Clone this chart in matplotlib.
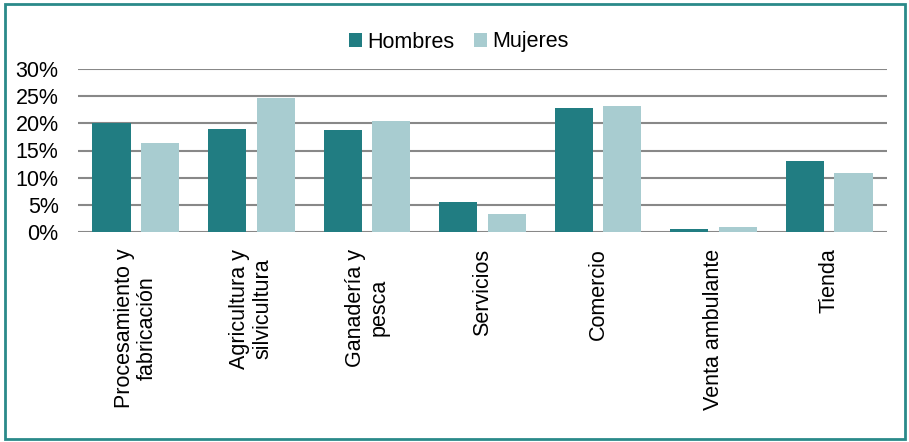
import numpy as np
import matplotlib.pyplot as plt
from matplotlib.patches import Rectangle
from matplotlib.ticker import PercentFormatter

plt.rcParams['font.family'] = ['Liberation Sans', 'DejaVu Sans']

categorias = ['Procesamiento y\nfabricación', 'Agricultura y\nsilvicultura', 'Ganadería y\npesca',
              'Servicios', 'Comercio', 'Venta ambulante', 'Tienda']
hombres = [20.0, 18.9, 18.8, 5.5, 22.8, 0.55, 13.0]
mujeres = [16.4, 24.6, 20.4, 3.3, 23.1, 0.9, 10.8]

c_h = '#217D82'
c_m = '#A8CCD0'

fig = plt.figure(figsize=(9.09, 4.42), dpi=100)
ax = fig.add_axes([78 / 909, 1 - 232 / 442, 809 / 909, 163 / 442])

x = np.arange(len(categorias))
w = 0.33
ax.bar(x - 0.21, hombres, w, color=c_h, label='Hombres', zorder=3)
ax.bar(x + 0.21, mujeres, w, color=c_m, label='Mujeres', zorder=3)

ax.set_xlim(-0.5, len(categorias) - 0.5)
ax.set_ylim(0, 30)
ax.set_yticks(np.arange(0, 31, 5))
ax.yaxis.set_major_formatter(PercentFormatter(decimals=0))
ax.grid(axis='y', color='#888888', linewidth=1.5, zorder=0)
for s in ax.spines.values():
    s.set_visible(False)
ax.tick_params(length=0, labelsize=15.5)
ax.tick_params(axis='y', pad=14)
ax.set_xticks(x)
ax.set_xticklabels(categorias, rotation=90, ha='center', va='top',
                   multialignment='center', linespacing=1.15)
ax.tick_params(axis='x', pad=12)

fig.legend(*ax.get_legend_handles_labels(), loc='center', bbox_to_anchor=(0.505, 1 - 42 / 442),
           ncol=2, frameon=False, fontsize=15.5, handlelength=0.6, handleheight=0.6,
           handletextpad=0.25, columnspacing=0.9)

fig.patches.append(Rectangle((5 / 909, 3 / 442), 900 / 909, 435 / 442, transform=fig.transFigure,
                             fill=False, edgecolor='#2A8A8A', linewidth=2))

fig.savefig('out.png', dpi=100)
